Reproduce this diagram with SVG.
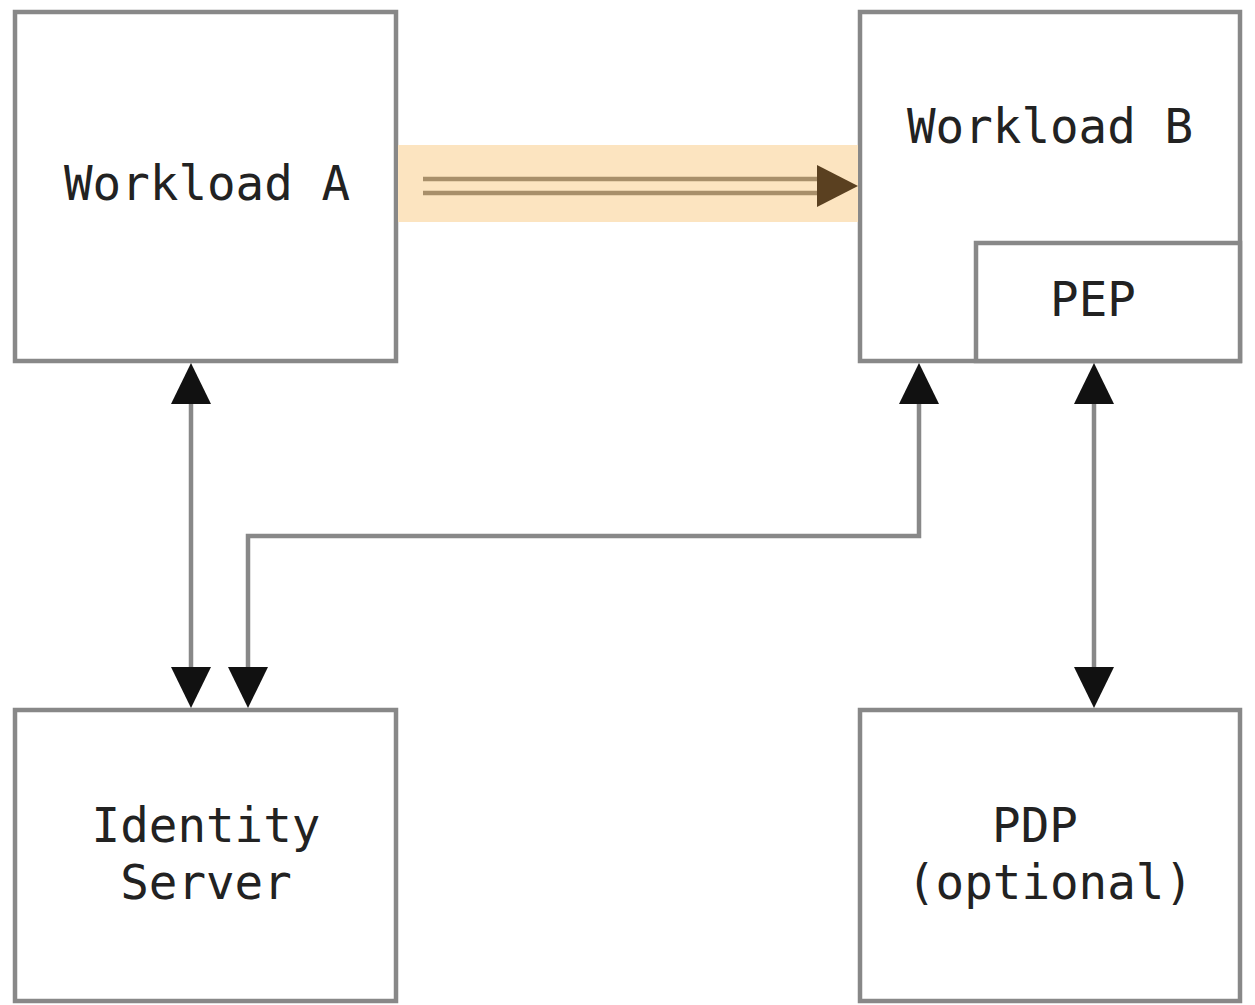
<svg xmlns="http://www.w3.org/2000/svg" width="1255" height="1005" viewBox="0 0 1255 1005">
<style>
.box{fill:#fff;stroke:#888;stroke-width:4.5}
.lbl{font-family:"DejaVu Sans Mono","Liberation Mono",monospace;font-size:47.5px;fill:#222;text-anchor:middle}
.conn{fill:none;stroke:#888;stroke-width:4.5}
.dbl{stroke:#a88f6a;stroke-width:4.5}
</style>
<rect width="1255" height="1005" fill="#fff"/>
<g id="workload-a">
<rect class="box" x="15" y="12" width="381" height="349"/>
<text class="lbl" x="207" y="200">Workload A</text>
</g>
<g id="workload-b">
<rect class="box" x="860" y="12" width="380" height="349"/>
<text class="lbl" x="1050" y="143">Workload B</text>
</g>
<g id="pep">
<rect class="box" x="976" y="243" width="264" height="118"/>
<text class="lbl" x="1093" y="316">PEP</text>
</g>
<g id="identity-server">
<rect class="box" x="15" y="710" width="381" height="291"/>
<text class="lbl" x="206" y="842">Identity</text>
<text class="lbl" x="206" y="899">Server</text>
</g>
<g id="pdp">
<rect class="box" x="860" y="710" width="380" height="291"/>
<text class="lbl" x="1035" y="842">PDP</text>
<text class="lbl" x="1050" y="899">(optional)</text>
</g>
<g id="connectors">
<g id="a-to-b">
<rect x="398" y="145" width="460" height="77" fill="#fce4c0"/>
<line class="dbl" x1="423" y1="179" x2="822" y2="179"/>
<line class="dbl" x1="423" y1="193" x2="822" y2="193"/>
<path d="M817,165 L858,186 L817,207 Z" fill="#5a4020"/>
</g>
<line class="conn" x1="191" y1="404" x2="191" y2="668"/>
<path d="M191,363 L211,404 L171,404 Z" fill="#111"/>
<path d="M191,708 L211,667 L171,667 Z" fill="#111"/>
<path class="conn" d="M919,404 L919,536 L248,536 L248,668"/>
<path d="M919,363 L939,404 L899,404 Z" fill="#111"/>
<path d="M248,708 L268,667 L228,667 Z" fill="#111"/>
<line class="conn" x1="1094" y1="404" x2="1094" y2="668"/>
<path d="M1094,363 L1114,404 L1074,404 Z" fill="#111"/>
<path d="M1094,708 L1114,667 L1074,667 Z" fill="#111"/>
</g>
</svg>
